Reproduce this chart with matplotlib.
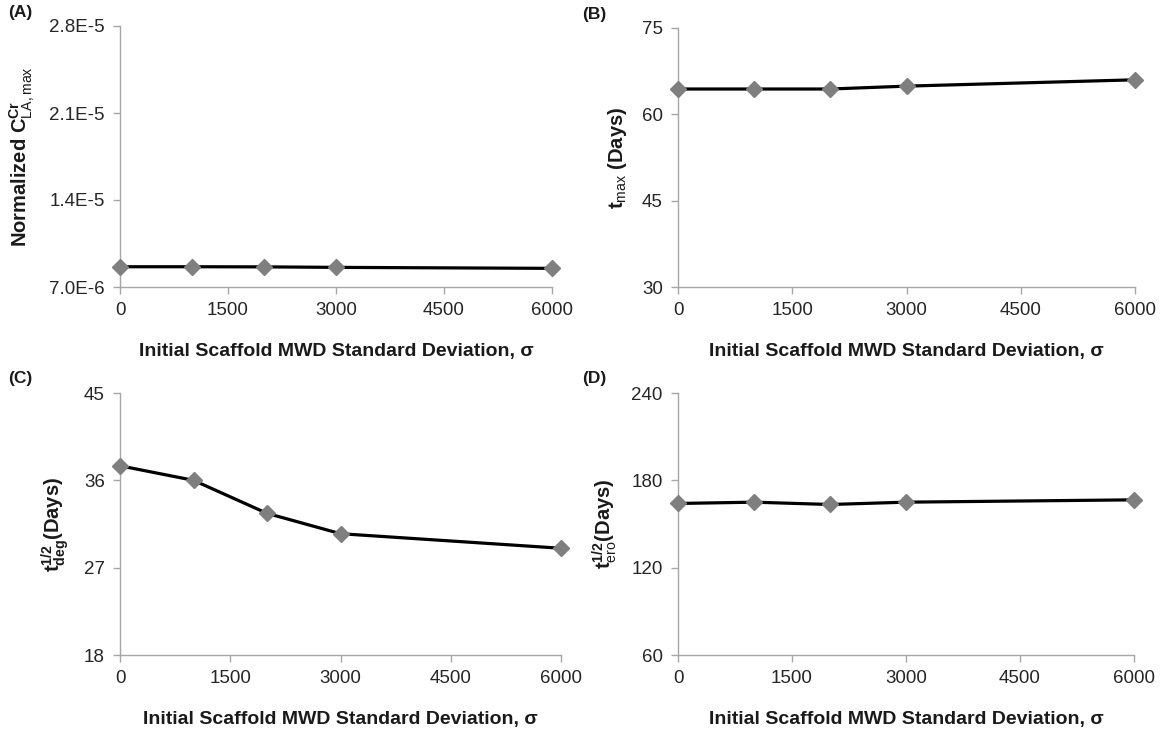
import matplotlib
matplotlib.use("Agg")
import matplotlib.pyplot as plt
from matplotlib.ticker import FixedLocator

plt.rcParams['font.family'] = ['Liberation Sans', 'DejaVu Sans']
plt.rcParams['mathtext.fontset'] = 'custom'
plt.rcParams['mathtext.rm'] = 'Liberation Sans'
plt.rcParams['mathtext.bf'] = 'Liberation Sans:bold'
plt.rcParams['mathtext.it'] = 'Liberation Sans:italic'

# Data
sigma = [0, 1000, 2000, 3000, 6000]
c_max = [8.63e-6, 8.63e-6, 8.62e-6, 8.58e-6, 8.50e-6]
t_max = [64.4, 64.4, 64.4, 64.9, 66.0]
t_half_deg = [37.5, 36.0, 32.6, 30.5, 29.0]
t_half_ero = [164.1, 165.0, 163.4, 165.0, 166.6]

x_ticks = [0, 1500, 3000, 4500, 6000]
a_ticks = [7.0e-6, 1.4e-5, 2.1e-5, 2.8e-5]
a_ticklabels = ["7.0E-6", "1.4E-5", "2.1E-5", "2.8E-5"]
b_ticks = [30, 45, 60, 75]
c_ticks = [18, 27, 36, 45]
d_ticks = [60, 120, 180, 240]

xlabel = "Initial Scaffold MWD Standard Deviation, \u03c3"

W, H = 1167, 736
fig = plt.figure(figsize=(W / 100, H / 100), dpi=100)

def rect(l, r, t, b):
    return [l / W, 1 - b / H, (r - l) / W, (b - t) / H]

panels = [
    dict(rect=rect(120, 552, 26, 287), y=c_max, yt=a_ticks, ytl=a_ticklabels,
         ylabel=r"Normalized C$^{\mathbf{Cr}}_{\mathrm{LA,max}}$", tag="(A)", tagpos=(8, 13)),
    dict(rect=rect(678, 1135, 28, 287), y=t_max, yt=b_ticks, ytl=[str(v) for v in b_ticks],
         ylabel=r"t$_{\mathrm{max}}$ (Days)", tag="(B)", tagpos=(582, 15)),
    dict(rect=rect(120, 561, 393, 655), y=t_half_deg, yt=c_ticks, ytl=[str(v) for v in c_ticks],
         ylabel=r"t$^{\mathbf{1/2}}_{\mathbf{deg}}$(Days)", tag="(C)", tagpos=(8, 378)),
    dict(rect=rect(678, 1134, 393, 655), y=t_half_ero, yt=d_ticks, ytl=[str(v) for v in d_ticks],
         ylabel=r"t$^{\mathbf{1/2}}_{\mathrm{ero}}$(Days)", tag="(D)", tagpos=(582, 378)),
]

gray = "#a6a6a6"
for p in panels:
    ax = fig.add_axes(p["rect"])
    ax.plot(sigma, p["y"], color="black", lw=2.3, marker="D", ms=7.8,
            mfc="#7f7f7f", mec="#7f7f7f", clip_on=False, zorder=3)
    ax.set_xlim(0, 6000)
    ax.set_ylim(p["yt"][0], p["yt"][-1])
    ax.xaxis.set_major_locator(FixedLocator(x_ticks))
    ax.set_xticklabels([str(v) for v in x_ticks])
    ax.set_yticks(p["yt"])
    ax.set_yticklabels(p["ytl"])
    for s in ["top", "right"]:
        ax.spines[s].set_visible(False)
    for s in ["left", "bottom"]:
        ax.spines[s].set_color(gray)
        ax.spines[s].set_linewidth(1.0)
    ax.tick_params(axis="both", direction="out", length=5, width=1.0, color=gray,
                   labelsize=13.5, labelcolor="#262626", pad=6)
    ax.set_xlabel(xlabel, fontsize=14, fontweight="bold", labelpad=17, color="#1a1a1a")
    ax.set_ylabel(p["ylabel"], fontsize=14.5, fontweight="bold", labelpad=9, color="#1a1a1a")
    fig.text(p["tagpos"][0] / W, 1 - p["tagpos"][1] / H, p["tag"], fontsize=12.5,
             fontweight="bold", va="center", ha="left", color="#1a1a1a")

fig.savefig("out.png", dpi=100)
